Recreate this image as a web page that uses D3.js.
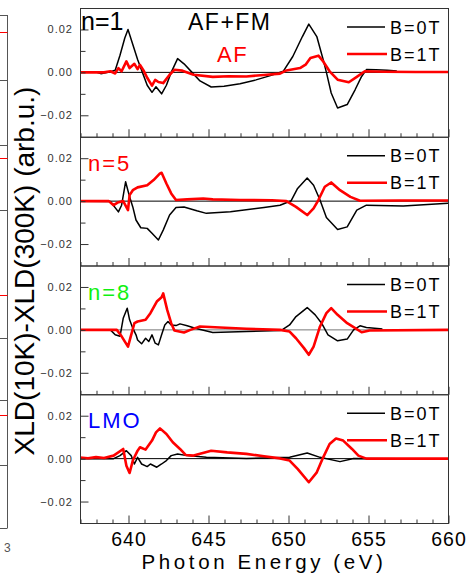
<!DOCTYPE html>
<html>
<head>
<meta charset="utf-8">
<script src="https://cdn.jsdelivr.net/npm/d3@7"></script>
<style>
  body { margin: 0; background: #fff; }
  text { font-family: "Liberation Sans", Arial, sans-serif; }
</style>
</head>
<body>
<div id="chart"></div>
<script>
// =====================================
// DATA
// =====================================

const energyTicks = [640, 645, 650, 655, 660];
const valueTicks = [0.02, 0.00, -0.02];
const panelLabels = ["n=1", "n=5", "n=8", "LMO"];
const labelColors = ["#000000", "#ff0000", "#11f011", "#0000ff"];
const legendLabels = ["B=0T", "B=1T"];

// [energy eV, XLD difference]
const n1B0 = [[637,0],[638,0.0002],[638.3,-0.0006],[638.9,0.0003],[639.2,0.001],[639.5,0.008],[639.8,0.016],[640.0,0.020],[640.3,0.013],[640.6,0.006],[640.9,0],[641.2,-0.006],[641.5,-0.0093],[641.75,-0.0067],[642.1,-0.010],[642.4,-0.006],[642.7,0],[643.1,0.0064],[643.5,0.004],[644.0,0],[644.5,-0.004],[645.2,-0.0068],[646,-0.0065],[647,-0.0053],[648,-0.0035],[648.9,-0.0015],[649.7,0.0005],[650.3,0.0074],[650.9,0.0167],[651.3,0.0225],[651.8,0.0167],[652.2,0.0059],[652.4,0],[652.7,-0.0096],[653.1,-0.0166],[653.7,-0.015],[654.2,-0.008],[654.6,-0.0019],[654.9,0.0013],[655.5,0.0012],[656.2,0.0010],[656.8,0.0006]];
const n1B1 = [[637,0],[638.5,0],[638.9,0.0005],[639.2,-0.0005],[639.4,0.002],[639.6,0.0005],[639.9,0.0051],[640.1,0.002],[640.4,0.004],[640.6,0.0015],[640.75,0.0035],[641.0,0.0005],[641.2,-0.0025],[641.5,-0.0062],[641.7,-0.0035],[641.9,-0.0045],[642.2,-0.005],[642.6,-0.0011],[642.9,0.0012],[643.4,0.0008],[644.1,-0.0011],[645.3,-0.0021],[646.3,-0.0018],[647.4,-0.0019],[648.5,-0.0012],[649.5,-0.0006],[649.9,0.0009],[650.75,0.002],[651.1,0.0036],[651.4,0.0067],[651.9,0.0078],[652.2,0.0051],[652.6,0.0005],[653.1,-0.0034],[653.8,-0.0046],[654.3,-0.0021],[654.8,0.0005],[656,0.0003],[658,0.0002],[660,0.0002]];

const n5B0 = [[637,0],[638.9,-0.0002],[639.4,-0.005],[639.6,-0.0019],[639.85,0.009],[640.1,0.002],[640.3,-0.0027],[640.5,-0.0088],[640.8,-0.0124],[641.2,-0.0127],[641.5,-0.015],[641.9,-0.0181],[642.2,-0.0135],[642.6,-0.0065],[643.0,-0.003],[643.5,-0.0027],[644.3,-0.0045],[644.9,-0.0057],[646.4,-0.005],[648.5,-0.003],[649.5,-0.0019],[650.2,0.0002],[650.6,0.0059],[651.2,0.0108],[651.6,0.0074],[652.0,0.0005],[652.4,-0.0076],[653.1,-0.0132],[653.7,-0.012],[654.3,-0.0042],[654.9,-0.0019],[657.2,-0.0023],[660,-0.001]];
const n5B1 = [[637,0],[638.8,0],[639.1,-0.0019],[639.4,-0.0005],[639.7,0],[640.0,-0.0042],[640.1,0.0028],[640.3,0.0051],[640.6,0.0064],[641.2,0.0074],[641.6,0.0098],[642.0,0.0129],[642.1,0.0132],[642.4,0.0082],[642.7,0.0036],[643.0,0.0005],[643.7,0.0008],[644.7,0.0012],[645.3,0.0008],[647,0.0005],[649,0.0004],[649.9,0],[650.5,-0.0027],[651.2,-0.0065],[651.6,-0.0034],[651.9,0.0005],[652.3,0.0067],[652.7,0.0087],[653.25,0.0051],[653.9,0.002],[654.5,0.0002],[657,0.0003],[660,0.0003]];

const n8B0 = [[637,0],[638.9,0],[639.2,-0.0023],[639.5,-0.003],[639.7,0.0054],[639.95,0.0101],[640.1,0.0047],[640.3,0.0008],[640.5,-0.0023],[640.6,-0.0047],[640.85,-0.0065],[641.1,-0.0039],[641.3,-0.0054],[641.5,-0.0023],[641.7,-0.0062],[641.9,-0.007],[642.1,-0.0023],[642.3,0.0023],[642.5,0.0039],[642.7,0.0023],[643.0,0.002],[643.25,0.0028],[643.7,0.0019],[644.2,0.0008],[645.3,-0.0012],[647.4,-0.0008],[649.5,-0.0003],[649.7,0.0003],[650.1,0.0023],[650.5,0.0062],[651.2,0.0104],[651.7,0.007],[652.1,0.0031],[652.5,-0.0023],[653.1,-0.0051],[653.7,-0.0043],[654.1,0],[654.5,0.0019],[654.9,0.0011],[655.75,0.0005],[655.9,0.0004]];
const n8B1 = [[637,0],[638.9,0],[639.3,0],[639.6,-0.003],[640.0,-0.0078],[640.2,-0.0023],[640.4,0.0031],[640.6,0.0039],[641.1,0.0047],[641.4,0.0078],[641.8,0.0132],[642.1,0.0152],[642.2,0.017],[642.45,0.0093],[642.7,0.0031],[642.9,-0.0003],[643.5,-0.0012],[643.9,0],[644.5,0.0016],[645.75,0.0011],[647.4,0.0005],[649.5,0],[650.1,-0.0008],[650.5,-0.0039],[651.0,-0.0085],[651.3,-0.0116],[651.6,-0.0078],[652.0,0.0016],[652.4,0.0078],[652.7,0.0101],[653.1,0.007],[653.7,0.0031],[654.2,0.0008],[654.6,-0.0011],[655.1,-0.0003],[660,0]];

const lmoB0 = [[637,0],[639.1,0],[639.5,0.0014],[639.9,0.0037],[640.2,0.0014],[640.4,-0.0025],[640.6,0.0006],[640.85,-0.0025],[641.2,-0.0037],[641.4,-0.0025],[641.8,-0.004],[642.1,-0.0025],[642.4,-0.0009],[642.7,0.0014],[643.1,0.0022],[643.7,0.0014],[644.9,0.0006],[647.4,0.0001],[650.1,0.0006],[651.2,0.0026],[652,0.0006],[653.25,-0.0014],[654.1,0.0001],[657,0]];
const lmoB1 = [[637,0.0005],[637.5,0.0002],[638,0.0007],[638.5,0.0003],[639.1,0.0014],[639.7,0.0045],[639.9,-0.0033],[640.1,-0.0067],[640.3,-0.0009],[640.6,0.0037],[640.75,0.0053],[641.1,0.0042],[641.5,0.0084],[641.75,0.0122],[642.0,0.0141],[642.4,0.0115],[642.8,0.0076],[643.25,0.0045],[643.6,0.0017],[644.1,0.0014],[645.2,0.0037],[646.2,0.0029],[647.4,0.0022],[648.5,0.0011],[649.5,0.0001],[650.1,-0.0009],[650.6,-0.0048],[651.3,-0.011],[651.8,-0.0064],[652.2,0.0006],[652.6,0.0068],[653.0,0.0094],[653.45,0.0084],[654.0,0.0045],[654.4,0.0014],[654.9,0],[660,0]];

const zeroFieldSeries = [n1B0, n5B0, n8B0, lmoB0];
const oneTeslaSeries = [n1B1, n5B1, n8B1, lmoB1];

// =====================================
// DIMENSIONS
// =====================================

const W = 468, H = 580;
const plot = { left: 80, right: 448, top: 8, bottom: 523 };
const panelH = (plot.bottom - plot.top) / panelLabels.length;

const svg = d3.select("#chart")
  .append("svg")
  .attr("width", W)
  .attr("height", H);

// =====================================
// CROPPED NEIGHBOUR FIGURE (left edge)
// =====================================

const side = svg.append("g").attr("stroke-width", 1);
side.append("line")
  .attr("x1", 7.5).attr("x2", 7.5).attr("y1", 15).attr("y2", 528)
  .attr("stroke", "#555");
[15, 80, 145, 210, 338, 400, 465, 528].forEach(y => {
  side.append("line")
    .attr("x1", 0).attr("x2", 7.5).attr("y1", y + 0.5).attr("y2", y + 0.5)
    .attr("stroke", "#555");
});
[32, 158, 295, 415].forEach(y => {
  side.append("line")
    .attr("x1", 0).attr("x2", 7.5).attr("y1", y + 0.5).attr("y2", y + 0.5)
    .attr("stroke", "#ff0000");
});
svg.append("text")
  .attr("x", 4).attr("y", 552)
  .style("font-size", "12px")
  .attr("fill", "#555")
  .text("3");

// =====================================
// SCALES
// =====================================

const x = d3.scaleLinear()
  .domain([637, 660])
  .range([plot.left, plot.right]);

const line = yScale => d3.line()
  .x(d => x(d[0]))
  .y(d => yScale(d[1]));

// =====================================
// PANELS
// =====================================

panelLabels.forEach((label, i) => {
  const top = plot.top + i * panelH;
  const bottom = top + panelH;

  const y = d3.scaleLinear()
    .domain([-0.03, 0.03])
    .range([bottom, top]);

  const g = svg.append("g");

  g.append("clipPath")
    .attr("id", "clip" + i)
    .append("rect")
    .attr("x", plot.left).attr("y", top)
    .attr("width", plot.right - plot.left).attr("height", panelH);

  // zero line
  g.append("line")
    .attr("x1", plot.left).attr("x2", plot.right)
    .attr("y1", y(0)).attr("y2", y(0))
    .attr("stroke", i === 2 ? "#777" : "#000")
    .attr("stroke-width", 1);

  const curves = g.append("g").attr("clip-path", `url(#clip${i})`);

  curves.append("path")
    .datum(zeroFieldSeries[i])
    .attr("d", line(y))
    .attr("fill", "none")
    .attr("stroke", "#000")
    .attr("stroke-width", 1.5)
    .attr("stroke-linejoin", "round");

  curves.append("path")
    .datum(oneTeslaSeries[i])
    .attr("d", line(y))
    .attr("fill", "none")
    .attr("stroke", "#ff0000")
    .attr("stroke-width", 2.6)
    .attr("stroke-linejoin", "round");

  // frame
  g.append("rect")
    .attr("x", plot.left + 0.5).attr("y", top + 0.5)
    .attr("width", plot.right - plot.left).attr("height", panelH)
    .attr("fill", "none")
    .attr("stroke", "#333")
    .attr("stroke-width", 1);

  // bottom axis, ticks inward
  g.append("g")
    .attr("transform", `translate(0.5,${bottom + 0.5})`)
    .call(d3.axisBottom(x).ticks(23).tickSize(-4).tickFormat(""))
    .call(a => a.select(".domain").remove())
    .call(a => a.selectAll(".tick line")
      .attr("stroke", "#333")
      .attr("y2", d => energyTicks.includes(d) ? -8 : -4));

  // left axis, ticks inward
  g.append("g")
    .attr("transform", `translate(${plot.left + 0.5},0)`)
    .call(d3.axisLeft(y).tickValues([-0.02, -0.01, 0, 0.01, 0.02]).tickSize(-8).tickFormat(""))
    .call(a => a.select(".domain").remove())
    .call(a => a.selectAll(".tick line")
      .attr("stroke", "#333")
      .attr("x2", d => Math.abs(d) > 0.015 ? 8 : 5));

  g.selectAll(".ylab")
    .data(valueTicks)
    .enter()
    .append("text")
    .attr("x", 73)
    .attr("y", d => y(d) + 4)
    .attr("text-anchor", "end")
    .style("font-size", "11px")
    .style("letter-spacing", "1px")
    .attr("fill", "#333")
    .text(d => d3.format(".2f")(d));

  // panel label
  g.append("text")
    .attr("x", i === 0 ? 81 : 88)
    .attr("y", top + (i === 0 ? 22 : 34))
    .style("font-size", i === 0 ? "25px" : "22px")
    .style("letter-spacing", i === 0 ? "0px" : "2px")
    .attr("fill", labelColors[i])
    .text(label);

  // legend
  const legendColors = ["#000", "#ff0000"];
  const legendWidths = [1.5, 2.6];
  legendLabels.forEach((name, k) => {
    const ly = top + 19 + k * 27;
    g.append("line")
      .attr("x1", 347).attr("x2", 385 + k * 2)
      .attr("y1", ly).attr("y2", ly)
      .attr("stroke", legendColors[k])
      .attr("stroke-width", legendWidths[k]);
    g.append("text")
      .attr("x", 390)
      .attr("y", ly + 6.5)
      .style("font-size", "18px")
      .style("letter-spacing", "2px")
      .attr("fill", "#000")
      .text(name);
  });
});

// annotations in the top panel
svg.append("text")
  .attr("x", 188).attr("y", 30)
  .style("font-size", "23px")
  .style("letter-spacing", "1.5px")
  .attr("fill", "#000")
  .text("AF+FM");

svg.append("text")
  .attr("x", 217).attr("y", 62)
  .style("font-size", "22px")
  .style("letter-spacing", "1.5px")
  .attr("fill", "#ff0000")
  .text("AF");

// =====================================
// AXIS LABELS
// =====================================

svg.selectAll(".xlab")
  .data(energyTicks)
  .enter()
  .append("text")
  .attr("x", d => x(d) + 1)
  .attr("y", 546)
  .attr("text-anchor", "middle")
  .style("font-size", "19.5px")
  .style("letter-spacing", "1px")
  .attr("fill", "#000")
  .text(d => d);

svg.append("text")
  .attr("x", 264)
  .attr("y", 569)
  .attr("text-anchor", "middle")
  .style("font-size", "20.5px")
  .style("letter-spacing", "3.6px")
  .attr("fill", "#000")
  .text("Photon Energy (eV)");

svg.append("text")
  .attr("transform", "translate(34,271) rotate(-90)")
  .attr("text-anchor", "middle")
  .style("font-size", "28px")
  .attr("fill", "#000")
  .text("XLD(10K)-XLD(300K) (arb.u.)");
</script>
</body>
</html>
